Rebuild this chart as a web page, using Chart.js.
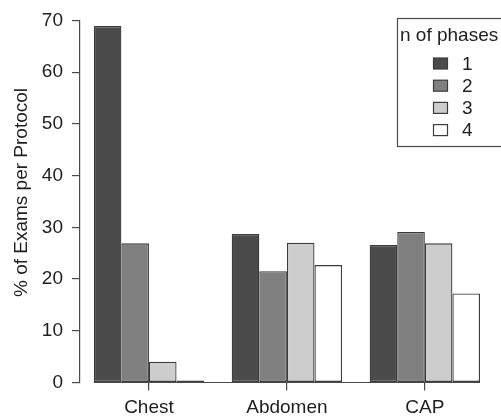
<!DOCTYPE html>
<html>
<head>
<meta charset="utf-8">
<script src="https://cdn.jsdelivr.net/npm/chart.js@4/dist/chart.umd.min.js"></script>
<style>
html,body{margin:0;padding:0;background:#fff;}
#wrap{width:501px;height:417px;position:relative;}
</style>
</head>
<body>
<div id="wrap"><canvas id="c" width="501" height="417"></canvas></div>
<script>
const categories = ['Chest', 'Abdomen', 'CAP'];
const phase1 = [68.9, 28.7, 26.6];
const phase2 = [26.9, 21.5, 29.1];
const phase3 = [4.0, 27.0, 26.9];
const phase4 = [0.4, 22.7, 17.2];
const seriesLabels = ['1', '2', '3', '4'];
const yTicks = [0, 10, 20, 30, 40, 50, 60, 70];
const legendTitle = 'n of phases';
const yTitle = '% of Exams per Protocol';

const fills = ['#4b4b4b', '#808080', '#cdcdcd', '#ffffff'];
const edge = '#3c3c3c';
const axisCol = '#4a4a4a';
const textCol = '#1e1e1e';
const FONT = '"Liberation Sans", Arial, sans-serif';

const series = [phase1, phase2, phase3, phase4];
const datasets = series.map((d, i) => ({
  label: seriesLabels[i],
  data: d,
  backgroundColor: fills[i],
  borderColor: edge,
  borderWidth: 1.3,
  borderSkipped: false,
  categoryPercentage: 0.8,
  barPercentage: 1.0
}));

const overlay = {
  id: 'overlay',
  afterDatasetsDraw(chart) {
    const ctx = chart.ctx;
    const ys = chart.scales.y;
    const m0 = chart.getDatasetMeta(0).data[0];
    const mN = chart.getDatasetMeta(datasets.length - 1).data[categories.length - 1];
    const y0 = ys.getPixelForValue(0);
    ctx.save();
    ctx.strokeStyle = axisCol;
    ctx.lineWidth = 1.2;
    ctx.beginPath();
    ctx.moveTo(m0.x - m0.width / 2, y0);
    ctx.lineTo(mN.x + mN.width / 2, y0);
    ctx.stroke();
    ctx.restore();
  },
  afterDraw(chart) {
    const ctx = chart.ctx;
    ctx.save();
    ctx.fillStyle = textCol;
    ctx.font = '19px ' + FONT;
    ctx.textAlign = 'center';
    ctx.textBaseline = 'middle';
    ctx.translate(22, 192.5);
    ctx.rotate(-Math.PI / 2);
    ctx.fillText(yTitle, 0, 0);
    ctx.restore();

    ctx.save();
    const bx = 397.5, by = 18.5, bw = 110, bh = 128;
    ctx.strokeStyle = axisCol;
    ctx.lineWidth = 1.2;
    ctx.strokeRect(bx, by, bw, bh);
    ctx.fillStyle = textCol;
    ctx.font = '19px ' + FONT;
    ctx.textBaseline = 'middle';
    ctx.textAlign = 'left';
    ctx.fillText(legendTitle, 400, 36);
    chart.data.datasets.forEach((ds, i) => {
      const cy = 63.5 + i * 22.2;
      ctx.fillStyle = ds.backgroundColor;
      ctx.fillRect(433.5, cy - 5.5, 14, 11);
      ctx.strokeStyle = edge;
      ctx.lineWidth = 1.2;
      ctx.strokeRect(433.5, cy - 5.5, 14, 11);
      ctx.fillStyle = textCol;
      ctx.fillText(ds.label, 462, cy + 1);
    });
    ctx.restore();
  }
};

new Chart(document.getElementById('c'), {
  type: 'bar',
  data: { labels: categories, datasets },
  options: {
    responsive: false,
    animation: false,
    devicePixelRatio: 1,
    layout: { padding: { left: 0, right: 7.2, top: 18.5, bottom: 0 } },
    plugins: { legend: { display: false }, tooltip: { enabled: false } },
    scales: {
      x: {
        offset: true,
        afterFit(s) { s.height = 34.5; },
        grid: { display: true, drawOnChartArea: false, offset: false, tickLength: 8, tickColor: axisCol, lineWidth: 1.2 },
        border: { display: false },
        ticks: { color: textCol, font: { family: FONT, size: 19 }, padding: 5.5, maxRotation: 0, autoSkip: false }
      },
      y: {
        min: 0, max: 70,
        afterFit(s) { s.width = 80; },
        afterBuildTicks(s) { s.ticks = yTicks.map(v => ({ value: v })); },
        grid: { display: true, drawOnChartArea: false, tickLength: 8, tickColor: axisCol, lineWidth: 1.2 },
        border: { display: true, color: axisCol, width: 1.2 },
        ticks: { color: textCol, font: { family: FONT, size: 19 }, padding: 9 }
      }
    }
  },
  plugins: [overlay]
});
</script>
</body>
</html>
